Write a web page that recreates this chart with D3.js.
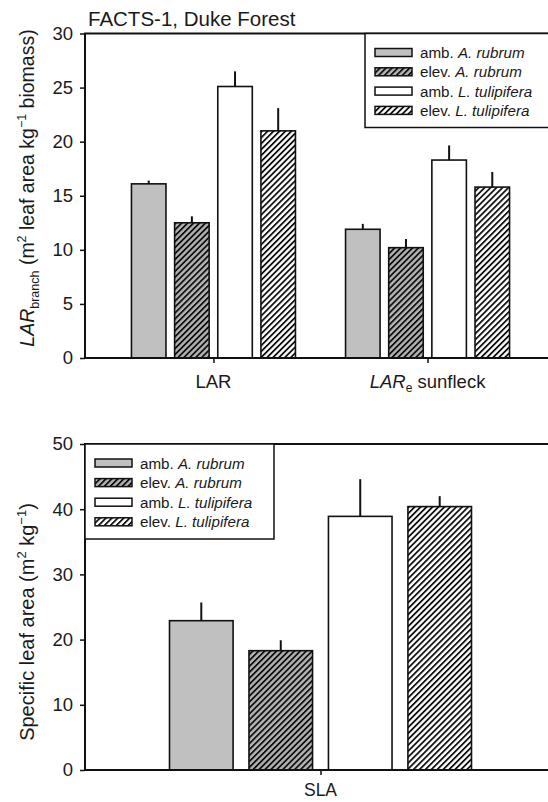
<!doctype html>
<html>
<head>
<script src="https://cdn.jsdelivr.net/npm/d3@7"></script>
<style>
  body { margin: 0; background: #fff; }
  svg { display: block; }
  text { font-family: "Liberation Sans", Arial, sans-serif; fill: #1a1a1a; }
</style>
</head>
<body>
<svg id="chart" width="548" height="802"></svg>
<script>
// ---- data ----
var seriesNames = ["amb. A. rubrum", "elev. A. rubrum", "amb. L. tulipifera", "elev. L. tulipifera"];
var topGroups = ["LAR", "LARe sunfleck"];
var larMean = [16.1, 12.5, 25.1, 21.0];
var larSE = [0.3, 0.6, 1.4, 2.1];
var sunfleckMean = [11.9, 10.2, 18.3, 15.8];
var sunfleckSE = [0.5, 0.8, 1.35, 1.4];
var bottomGroups = ["SLA"];
var slaMean = [22.9, 18.3, 38.9, 40.4];
var slaSE = [2.8, 1.6, 5.7, 1.6];
var topTicks = [0, 5, 10, 15, 20, 25, 30];
var bottomTicks = [0, 10, 20, 30, 40, 50];

var svg = d3.select("#chart");

// hatch patterns
var defs = svg.append("defs");
function hatch(id, bg) {
  var p = defs.append("pattern").attr("id", id)
    .attr("patternUnits", "userSpaceOnUse")
    .attr("width", 4.2).attr("height", 4.2)
    .attr("patternTransform", "rotate(45)");
  p.append("rect").attr("width", 4.2).attr("height", 4.2).attr("fill", bg);
  p.append("line").attr("x1", 0.9).attr("y1", 0).attr("x2", 0.9).attr("y2", 4.2)
    .attr("stroke", "#111").attr("stroke-width", 1.8);
}
hatch("hatchGray", "#b4b4b4");
hatch("hatchWhite", "#ffffff");
var fills = ["#c0c0c0", "url(#hatchGray)", "#ffffff", "url(#hatchWhite)"];

var xLeft = 85, xRight = 556;

function panel(opts) {
  var y = d3.scaleLinear().domain(opts.domain).range([opts.bottom, opts.top]);
  var x0 = d3.scalePoint().domain(opts.groups).range([xLeft, xRight]).padding(opts.pad);
  var x1 = d3.scaleBand().domain(seriesNames).range([-opts.half, opts.half]).paddingInner(0.2);

  var g = svg.append("g");

  // bars + upward error bars
  opts.groups.forEach(function(grp, gi) {
    var rows = seriesNames.map(function(s, i) {
      return { s: s, i: i, m: opts.means[gi][i], e: opts.ses[gi][i] };
    });
    var bg = g.append("g").attr("transform", "translate(" + x0(grp) + ",0)");
    bg.selectAll("rect").data(rows).enter().append("rect")
      .attr("x", d => x1(d.s))
      .attr("y", d => y(d.m))
      .attr("width", x1.bandwidth())
      .attr("height", d => y(0) - y(d.m))
      .attr("fill", d => fills[d.i])
      .attr("stroke", "#111").attr("stroke-width", 1.6);
    bg.selectAll("line.err").data(rows).enter().append("line")
      .attr("class", "err")
      .attr("x1", d => x1(d.s) + x1.bandwidth() / 2)
      .attr("x2", d => x1(d.s) + x1.bandwidth() / 2)
      .attr("y1", d => y(d.m))
      .attr("y2", d => y(d.m + d.e))
      .attr("stroke", "#111").attr("stroke-width", 2);
  });

  // axes
  var yAxis = d3.axisLeft(y).tickValues(opts.ticks).tickSize(5).tickPadding(7);
  var ya = g.append("g").attr("transform", "translate(" + xLeft + ",0)").call(yAxis);
  ya.select(".domain").remove();
  ya.selectAll("line").attr("stroke", "#111").attr("stroke-width", 1.5);
  ya.selectAll("text").style("font-size", "18.5px").attr("fill", "#1a1a1a");

  var xAxis = d3.axisBottom(x0).tickSize(5).tickFormat("");
  var xa = g.append("g").attr("transform", "translate(0," + opts.bottom + ")").call(xAxis);
  xa.select(".domain").remove();
  xa.selectAll("line").attr("stroke", "#111").attr("stroke-width", 1.5);

  // frame: top, left, bottom
  g.append("path")
    .attr("d", "M" + xRight + "," + opts.top + "H" + xLeft + "V" + opts.bottom + "H" + xRight)
    .attr("fill", "none").attr("stroke", "#111").attr("stroke-width", 2);

  // legend
  var lg = g.append("g");
  lg.append("rect")
    .attr("x", opts.legX).attr("y", opts.top)
    .attr("width", opts.legW).attr("height", opts.legH)
    .attr("fill", "#fff").attr("stroke", "#111").attr("stroke-width", 1.5);
  var items = lg.selectAll("g.item").data(seriesNames).enter().append("g")
    .attr("class", "item")
    .attr("transform", (d, i) => "translate(" + (opts.legX + 10) + "," + (opts.legY + i * opts.legStep) + ")");
  items.append("rect")
    .attr("x", 0).attr("y", -4).attr("width", 37).attr("height", 8)
    .attr("fill", (d, i) => fills[i]).attr("stroke", "#111").attr("stroke-width", 1.5);
  var t = items.append("text").attr("x", 45).attr("y", 5.5).style("font-size", "15.2px").attr("fill", "#2a2a2a");
  t.append("tspan").text(d => d.split(" ")[0] + " ");
  t.append("tspan").style("font-style", "italic").text(d => d.split(" ").slice(1).join(" "));

  return { x0: x0, y: y };
}

var p1 = panel({
  domain: [0, 30], top: 33.5, bottom: 358, groups: topGroups, pad: 0.6, half: 82,
  means: [larMean, sunfleckMean], ses: [larSE, sunfleckSE], ticks: topTicks,
  legX: 365, legW: 200, legH: 94, legY: 52.5, legStep: 19.3
});
var p2 = panel({
  domain: [0, 50], top: 444, bottom: 770, groups: bottomGroups, pad: 0.5, half: 151,
  means: [slaMean], ses: [slaSE], ticks: bottomTicks,
  legX: 85, legW: 189, legH: 95, legY: 463, legStep: 19.6
});

// title
svg.append("text").attr("x", 88).attr("y", 26).style("font-size", "20.5px")
  .text("FACTS-1, Duke Forest");

// x category labels
svg.append("text").attr("x", p1.x0("LAR")).attr("y", 388)
  .attr("text-anchor", "middle").style("font-size", "18.5px").text("LAR");
var lare = svg.append("text").attr("x", p1.x0("LARe sunfleck")).attr("y", 388)
  .attr("text-anchor", "middle").style("font-size", "18.5px");
lare.append("tspan").style("font-style", "italic").text("LAR");
lare.append("tspan").attr("dy", 4).style("font-size", "12px").text("e");
lare.append("tspan").attr("dy", -4).text(" sunfleck");
svg.append("text").attr("x", p2.x0("SLA")).attr("y", 796)
  .attr("text-anchor", "middle").style("font-size", "17.5px").text("SLA");

// y axis titles
var yl1 = svg.append("text").attr("transform", "translate(34,188) rotate(-90)")
  .attr("text-anchor", "middle").style("font-size", "19.5px");
yl1.append("tspan").style("font-style", "italic").text("LAR");
yl1.append("tspan").attr("dy", 5).style("font-size", "12.5px").text("branch");
yl1.append("tspan").attr("dy", -5).text(" (m");
yl1.append("tspan").attr("dy", -8).style("font-size", "12.5px").text("2");
yl1.append("tspan").attr("dy", 8).text(" leaf area kg");
yl1.append("tspan").attr("dy", -8).style("font-size", "12.5px").text("\u22121");
yl1.append("tspan").attr("dy", 8).text(" biomass)");

var yl2 = svg.append("text").attr("transform", "translate(34,622) rotate(-90)")
  .attr("text-anchor", "middle").style("font-size", "20px");
yl2.append("tspan").text("Specific leaf area (m");
yl2.append("tspan").attr("dy", -8).style("font-size", "13px").text("2");
yl2.append("tspan").attr("dy", 8).text(" kg");
yl2.append("tspan").attr("dy", -8).style("font-size", "13px").text("\u22121");
yl2.append("tspan").attr("dy", 8).text(")");
</script>
</body>
</html>
